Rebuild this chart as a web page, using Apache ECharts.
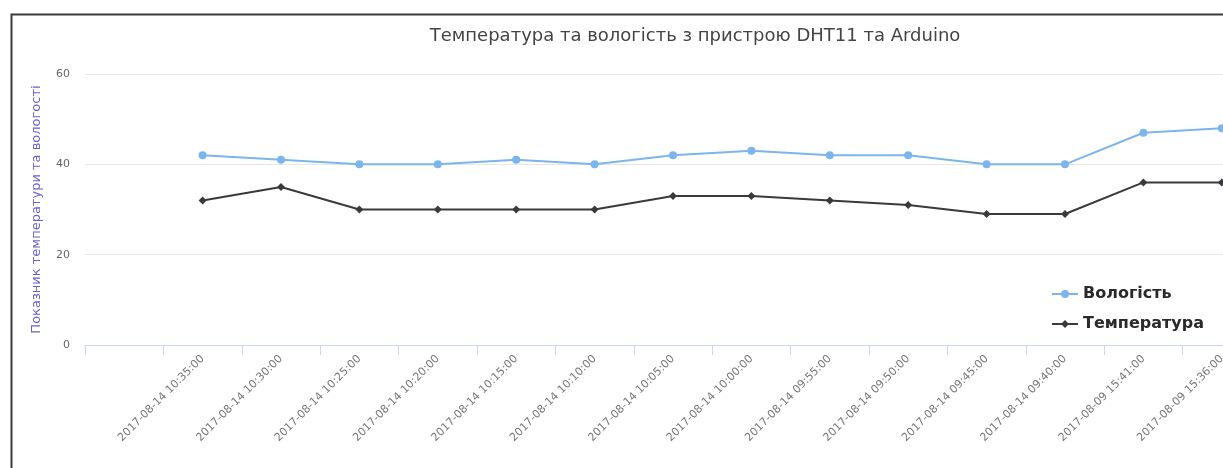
<!DOCTYPE html>
<html>
<head>
<meta charset="utf-8">
<script src="https://cdn.jsdelivr.net/npm/echarts@6/dist/echarts.min.js"></script>
<style>
html,body{margin:0;padding:0;background:#fff;overflow:hidden;width:1223px;height:468px;}
#chart{width:1300px;height:468px;}
</style>
</head>
<body>
<div id="chart"></div>
<script>
const titleText = 'Температура та вологість з пристрою DHT11 та Arduino';
const yAxisTitle = 'Показник температури та вологості';
const categories = ['', '2017-08-14 10:35:00', '2017-08-14 10:30:00', '2017-08-14 10:25:00', '2017-08-14 10:20:00',
  '2017-08-14 10:15:00', '2017-08-14 10:10:00', '2017-08-14 10:05:00', '2017-08-14 10:00:00',
  '2017-08-14 09:55:00', '2017-08-14 09:50:00', '2017-08-14 09:45:00', '2017-08-14 09:40:00',
  '2017-08-09 15:41:00', '2017-08-09 15:36:00'];
const humidity = ['-', 42, 41, 40, 40, 41, 40, 42, 43, 42, 42, 40, 40, 47, 48];
const temperature = ['-', 32, 35, 30, 30, 30, 30, 33, 33, 32, 31, 29, 29, 36, 36];
const yTicks = { min: 0, max: 60, interval: 20 };

const chart = echarts.init(document.getElementById('chart'));
const font = 'DejaVu Sans, Liberation Sans, sans-serif';
chart.setOption({
  animation: false,
  textStyle: { fontFamily: font },
  graphic: [{
    type: 'rect', left: 9, top: 12, silent: true,
    shape: { x: 0, y: 0, width: 1400, height: 600 },
    style: { fill: 'none', stroke: '#3a3a3a', lineWidth: 2 }
  }],
  title: {
    text: titleText, left: 690, textAlign: 'center', top: 22,
    textStyle: { fontSize: 18, fontWeight: 'normal', color: '#444', fontFamily: font }
  },
  legend: {
    orient: 'vertical', left: 1046, top: 281, itemGap: 14, itemWidth: 26, itemHeight: 10,
    textStyle: { fontSize: 16, fontWeight: 'bold', color: '#2a2a2a', fontFamily: font },
    data: ['Вологість', 'Температура']
  },
  grid: { left: 85, right: 39, top: 74, bottom: 123, containLabel: false },
  xAxis: {
    type: 'category', data: categories, boundaryGap: true,
    axisLine: { lineStyle: { color: '#ccd6eb', width: 1 } },
    axisTick: { show: true, length: 10, alignWithLabel: false, lineStyle: { color: '#ccd6eb' } },
    axisLabel: { rotate: 45, interval: 0, fontSize: 11, color: '#777', margin: 12, fontFamily: font }
  },
  yAxis: {
    type: 'value', min: yTicks.min, max: yTicks.max, interval: yTicks.interval,
    name: yAxisTitle, nameLocation: 'middle', nameGap: 42,
    nameTextStyle: { color: '#6a5fd0', fontSize: 13, fontFamily: font },
    axisLine: { show: false }, axisTick: { show: false },
    axisLabel: { fontSize: 11, color: '#666', margin: 15 },
    splitLine: { lineStyle: { color: '#e6e6e6' } }
  },
  series: [
    {
      name: 'Вологість', type: 'line', data: humidity,
      symbol: 'circle', symbolSize: 8,
      itemStyle: { color: '#7cb5ec' }, lineStyle: { width: 2, color: '#7cb5ec' }
    },
    {
      name: 'Температура', type: 'line', data: temperature,
      symbol: 'diamond', symbolSize: 8,
      itemStyle: { color: '#3a3a3e' }, lineStyle: { width: 2, color: '#3a3a3e' }
    }
  ]
});
</script>
</body>
</html>
